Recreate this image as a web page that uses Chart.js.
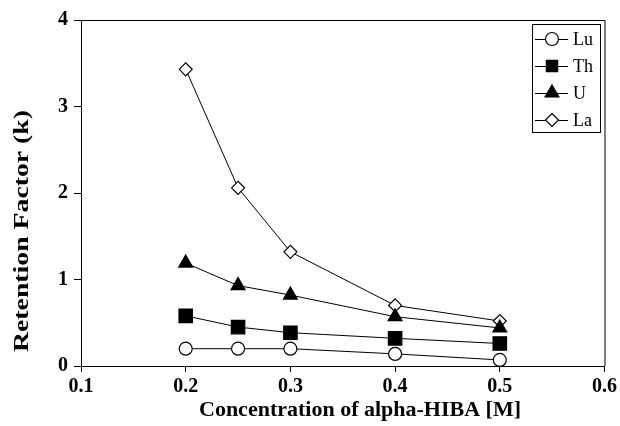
<!DOCTYPE html>
<html>
<head>
<meta charset="utf-8">
<script src="https://cdn.jsdelivr.net/npm/chart.js@4.4.0/dist/chart.umd.min.js"></script>
<style>
html,body{margin:0;padding:0;background:#fff;}
#wrap{width:620px;height:426px;position:relative;}
</style>
</head>
<body>
<div id="wrap"><canvas id="c" width="620" height="426"></canvas></div>
<script>
// ---- data ----
const concentrations = [0.2, 0.25, 0.3, 0.4, 0.5];
const seriesNames = ["Lu", "Th", "U", "La"];
const luValues = [0.20, 0.20, 0.20, 0.14, 0.07];
const thValues = [0.58, 0.45, 0.385, 0.32, 0.26];
const uValues  = [1.19, 0.93, 0.82, 0.57, 0.44];
const laValues = [3.43, 2.06, 1.32, 0.70, 0.52];
const xTickValues = [0.1, 0.2, 0.3, 0.4, 0.5, 0.6];
const xTickLabels = ["0.1", "0.2", "0.3", "0.4", "0.5", "0.6"];
const yTickValues = [0, 1, 2, 3, 4];
const yTickLabels = ["0", "1", "2", "3", "4"];
const xTitle = "Concentration of alpha-HIBA [M]";
const yTitle = "Retention Factor (k)";

const serif = "'Liberation Serif', 'Times New Roman', serif";

function pts(vals){ return concentrations.map((x,i)=>({x:x, y:vals[i]})); }

const styles = [
  {pointStyle:'circle',   radius:6.5, fill:'#fff'},
  {pointStyle:'rect',     radius:9.5, fill:'#000'},
  {pointStyle:'triangle', radius:8,   fill:'#000'},
  {pointStyle:'rectRot',  radius:6.5, fill:'#fff'}
];
const allValues = [luValues, thValues, uValues, laValues];

const datasets = allValues.map((vals, i) => ({
  label: seriesNames[i],
  data: pts(vals),
  borderColor: '#000',
  borderWidth: 1,
  pointStyle: styles[i].pointStyle,
  pointRadius: styles[i].radius,
  pointHoverRadius: styles[i].radius,
  pointBackgroundColor: styles[i].fill,
  pointBorderColor: '#000',
  pointBorderWidth: 1.2,
  showLine: true,
  tension: 0,
  fill: false
}));

function drawMarker(ctx, style, r, x, y, fill){
  ctx.save();
  ctx.beginPath();
  if (style === 'circle') {
    ctx.arc(x, y, r, 0, Math.PI*2);
  } else if (style === 'rect') {
    const s = r*Math.SQRT1_2;
    ctx.rect(x-s, y-s, 2*s, 2*s);
  } else if (style === 'triangle') {
    ctx.moveTo(x, y - r);
    ctx.lineTo(x + r*Math.cos(Math.PI/6), y + r*0.5);
    ctx.lineTo(x - r*Math.cos(Math.PI/6), y + r*0.5);
    ctx.closePath();
  } else if (style === 'rectRot') {
    ctx.moveTo(x, y-r); ctx.lineTo(x+r, y); ctx.lineTo(x, y+r); ctx.lineTo(x-r, y); ctx.closePath();
  }
  ctx.fillStyle = fill; ctx.fill();
  ctx.lineWidth = 1.2; ctx.strokeStyle = '#000'; ctx.stroke();
  ctx.restore();
}

function fitText(ctx, text, cx, cy, targetW, rot){
  ctx.save();
  ctx.translate(cx, cy);
  if (rot) ctx.rotate(rot);
  const w = ctx.measureText(text).width;
  const sx = targetW / w;
  ctx.scale(sx, 1);
  ctx.fillText(text, 0, 0);
  ctx.restore();
}

const framePlugin = {
  id: 'frameAndLegend',
  afterDraw(chart){
    const ctx = chart.ctx;
    const a = chart.chartArea;
    ctx.save();
    ctx.strokeStyle = '#000';
    ctx.lineWidth = 1;
    ctx.beginPath();
    ctx.moveTo(a.left, a.top + 0.5);
    ctx.lineTo(a.right + 0.5, a.top + 0.5);
    ctx.lineTo(a.right + 0.5, a.bottom);
    ctx.stroke();
    // legend box
    const bx = 532, by = 24, bw = 68, bh = 108;
    ctx.fillStyle = '#fff';
    ctx.fillRect(bx, by, bw, bh);
    ctx.strokeRect(bx + 0.5, by + 0.5, bw, bh);
    chart.data.datasets.forEach((ds, i) => {
      const y = 39 + i*27;
      ctx.beginPath();
      ctx.moveTo(535, y + 0.5);
      ctx.lineTo(568, y + 0.5);
      ctx.lineWidth = 1;
      ctx.stroke();
      drawMarker(ctx, ds.pointStyle, Math.min(ds.pointRadius, 8), 552, y, ds.pointBackgroundColor);
      ctx.fillStyle = '#000';
      ctx.font = "18px " + serif;
      ctx.textBaseline = 'middle';
      ctx.textAlign = 'left';
      ctx.fillText(ds.label, 573, y + 1);
    });
    // axis titles
    ctx.fillStyle = '#000';
    ctx.textAlign = 'center';
    ctx.textBaseline = 'middle';
    ctx.font = "bold 22px " + serif;
    fitText(ctx, xTitle, 360, 410, 322, 0);
    ctx.font = "bold 22px " + serif;
    fitText(ctx, yTitle, 22, 231, 242, -Math.PI/2);
    ctx.restore();
  }
};

new Chart(document.getElementById('c'), {
  type: 'scatter',
  data: { datasets: datasets },
  options: {
    responsive: false,
    animation: false,
    events: [],
    layout: { padding: { left: 0, top: 20, right: 14, bottom: 0 } },
    plugins: { legend: { display: false }, tooltip: { enabled: false } },
    scales: {
      x: {
        type: 'linear',
        min: 0.1, max: 0.6,
        afterBuildTicks(scale){ scale.ticks = xTickValues.map(v => ({value: v})); },
        afterFit(scale){ scale.height = 60; },
        ticks: {
          callback(v){ const i = xTickValues.findIndex(t => Math.abs(t - v) < 1e-9); return i >= 0 ? xTickLabels[i] : ''; },
          color: '#000',
          font: { family: serif, size: 20, weight: 'bold' },
          padding: 3,
          maxRotation: 0, autoSkip: false
        },
        grid: { drawOnChartArea: false, drawTicks: true, tickLength: 6, color: '#000', lineWidth: 1 },
        border: { color: '#000', width: 1 },
        title: { display: false }
      },
      y: {
        type: 'linear',
        min: 0, max: 4,
        afterBuildTicks(scale){ scale.ticks = yTickValues.map(v => ({value: v})); },
        afterFit(scale){ scale.width = 81; },
        ticks: {
          callback(v){ const i = yTickValues.indexOf(v); return i >= 0 ? yTickLabels[i] : ''; },
          color: '#000',
          font: { family: serif, size: 20, weight: 'bold' },
          padding: 6
        },
        grid: { drawOnChartArea: false, drawTicks: true, tickLength: 7, color: '#000', lineWidth: 1 },
        border: { color: '#000', width: 1 },
        title: { display: false }
      }
    }
  },
  plugins: [framePlugin]
});
</script>
</body>
</html>
